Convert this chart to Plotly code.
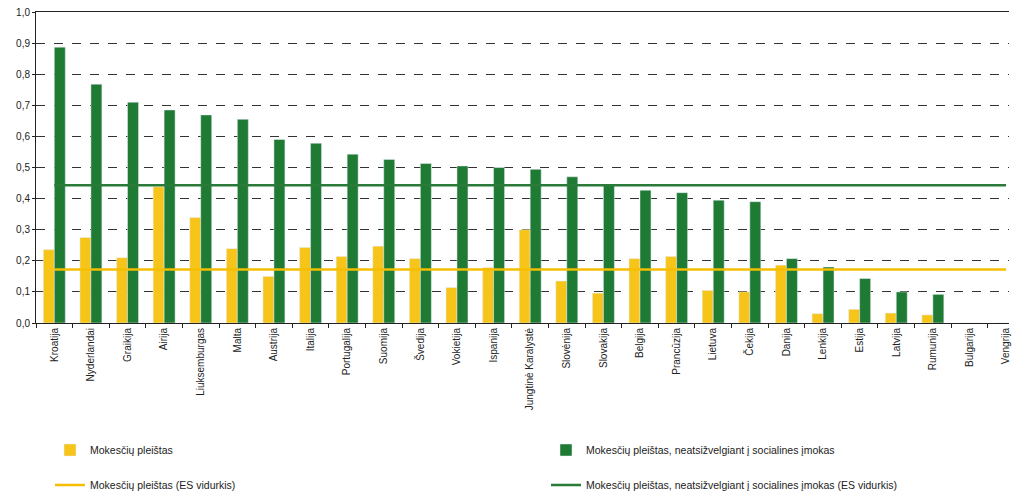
import plotly.graph_objects as go

countries = [
    "Kroatija", "Nyderlandai", "Graikija", "Airija", "Liuksemburgas", "Malta",
    "Austrija", "Italija", "Portugalija", "Suomija", "Švedija", "Vokietija",
    "Ispanija", "Jungtinė Karalystė", "Slovėnija", "Slovakija", "Belgija",
    "Prancūzija", "Lietuva", "Čekija", "Danija", "Lenkija", "Estija", "Latvija",
    "Rumunija", "Bulgarija", "Vengrija",
]
tax_wedge = [
    0.236, 0.275, 0.21, 0.438, 0.339, 0.239, 0.15, 0.243, 0.214, 0.247, 0.207,
    0.114, 0.178, 0.30, 0.135, 0.096, 0.207, 0.214, 0.105, 0.10, 0.186, 0.03,
    0.044, 0.032, 0.026, 0.0, 0.0,
]
tax_wedge_no_social = [
    0.887, 0.768, 0.71, 0.685, 0.669, 0.655, 0.59, 0.578, 0.543, 0.526, 0.513,
    0.505, 0.5, 0.494, 0.47, 0.443, 0.427, 0.419, 0.395, 0.39, 0.207, 0.18,
    0.143, 0.10, 0.092, 0.0, 0.0,
]
eu_avg_tax_wedge = 0.172
eu_avg_no_social = 0.443

names = [
    "Mokesčių pleištas",
    "Mokesčių pleištas, neatsižvelgiant į socialines įmokas",
    "Mokesčių pleištas (ES vidurkis)",
    "Mokesčių pleištas, neatsižvelgiant į socialines įmokas (ES vidurkis)",
]

YELLOW = "#F7C51A"
GREEN = "#1F7A33"
FONT = "Liberation Sans Narrow, Arial Narrow, Liberation Sans, Arial, sans-serif"

fig = go.Figure()
fig.add_trace(go.Bar(x=countries, y=tax_wedge, name=names[0], marker_color=YELLOW,
                     legend="legend"))
fig.add_trace(go.Bar(x=countries, y=tax_wedge_no_social, name=names[1], marker_color=GREEN,
                     legend="legend2"))
fig.add_trace(go.Scatter(x=[countries[0], countries[-1]], y=[eu_avg_tax_wedge] * 2,
                         mode="lines", name=names[2], line=dict(color="#F5BE00", width=2.5),
                         legend="legend3"))
fig.add_trace(go.Scatter(x=[countries[0], countries[-1]], y=[eu_avg_no_social] * 2,
                         mode="lines", name=names[3], line=dict(color="#2A7A3A", width=2.5),
                         legend="legend4"))

leg = dict(font=dict(family=FONT, size=10.5, color="#222"), bgcolor="rgba(0,0,0,0)",
           xref="container", yref="container", xanchor="left", yanchor="middle")

fig.update_layout(
    width=1019,
    height=493,
    margin=dict(l=36, r=10, t=12, b=170, autoexpand=False),
    paper_bgcolor="white",
    plot_bgcolor="white",
    separators=", ",
    barmode="group",
    bargap=0.4,
    bargroupgap=0,
    showlegend=True,
    font=dict(family=FONT, size=11, color="#222"),
    xaxis=dict(
        type="category",
        range=[-0.5, 26.08],
        tickangle=-90,
        ticks="outside",
        tickson="boundaries",
        ticklen=4,
        tickcolor="#222",
        showline=True,
        linecolor="#222",
        linewidth=1,
        mirror=True,
        showgrid=False,
        automargin=False,
        tickfont=dict(family=FONT, size=10),
    ),
    yaxis=dict(
        range=[0, 1],
        dtick=0.1,
        tickformat=".1f",
        showline=True,
        linecolor="#222",
        linewidth=1,
        ticks="outside",
        ticklen=3,
        tickcolor="#222",
        showgrid=True,
        gridcolor="#333",
        griddash="dash",
        gridwidth=1,
        zeroline=False,
        automargin=False,
        tickfont=dict(family="Liberation Sans, Arial, sans-serif", size=10),
    ),
    legend=dict(x=50 / 1019, y=1 - 450 / 493, **leg),
    legend2=dict(x=546 / 1019, y=1 - 450 / 493, **leg),
    legend3=dict(x=50 / 1019, y=1 - 485 / 493, **leg),
    legend4=dict(x=546 / 1019, y=1 - 485 / 493, **leg),
)

fig.write_html(
    "out.html",
    config={"displayModeBar": False},
    post_script="document.body.style.margin = '0';",
)
